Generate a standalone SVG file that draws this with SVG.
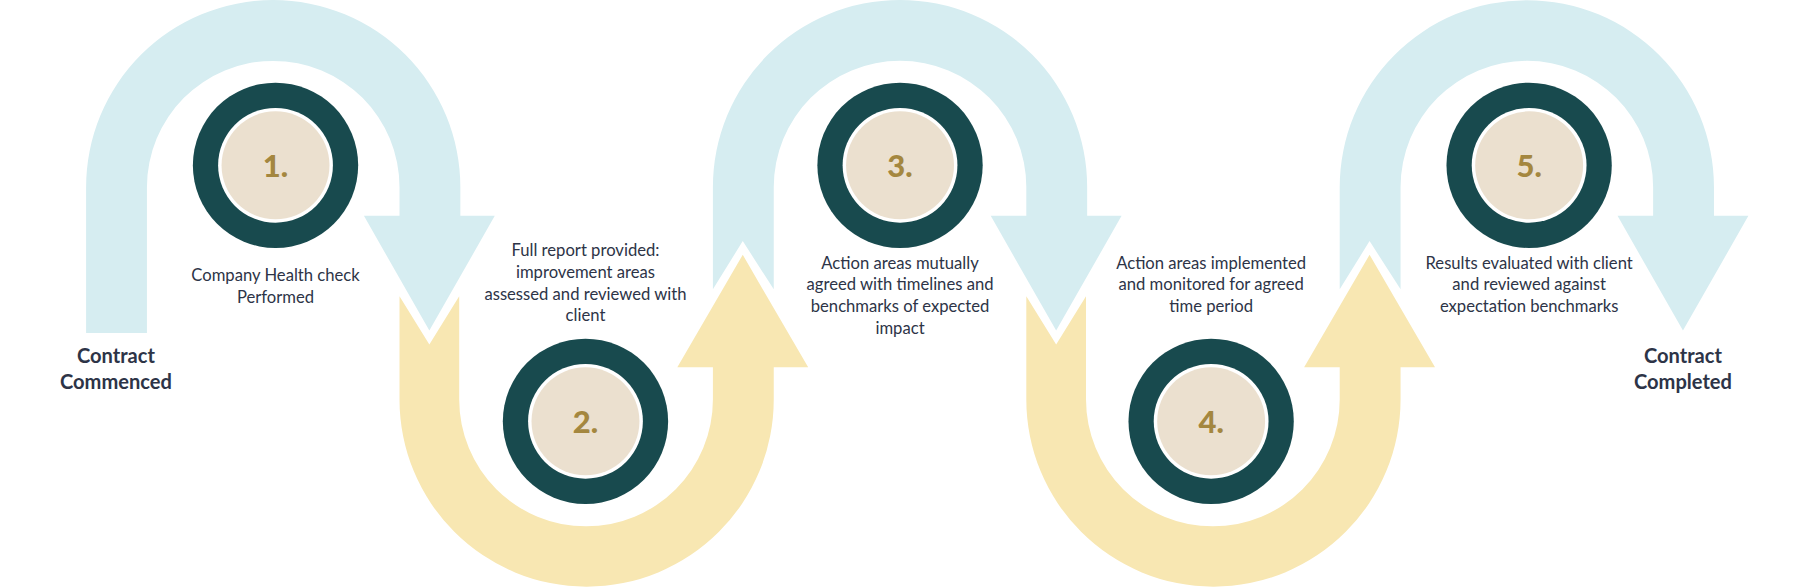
<svg xmlns="http://www.w3.org/2000/svg" width="1800" height="587" viewBox="0 0 1800 587">
<style>
.b{fill:#d6edf1}.y{fill:#f8e7b2}
.ro{fill:#184a4e}.rw{fill:#fff}.ri{fill:#ebe0cf}
.n{font-family:Lato,"Liberation Sans",sans-serif;font-weight:900;font-size:27px;fill:#a4873f;text-anchor:middle}
.t{font-family:Lato,"Liberation Sans",sans-serif;font-size:14.5px;fill:#2d3447;text-anchor:middle}
.h{font-family:Lato,"Liberation Sans",sans-serif;font-weight:700;font-size:17.5px;fill:#2d3447;text-anchor:middle}
</style>
<rect width="1800" height="587" fill="#fff"/>
<g transform="scale(1.148)">
<g id="connectors">
<path class="b" d="M75,290 V163 A163,163 0 0 1 401,163 V188 H431 L374,288 L317,188 H348 V163 A110,110 0 0 0 128,163 V290 Z"/>
<path class="y" d="M348,258 L374,300 L400,258 V348 A110.5,110.5 0 0 0 621,348 V320 H590 L647,222 L704,320 H674 V348 A163,163 0 0 1 348,348 Z"/>
<path class="b" d="M621,252 V163 A163,163 0 0 1 947,163 V188 H977 L920,288 L863,188 H894 V163 A110,110 0 0 0 674,163 V252 L647,210 Z"/>
<path class="y" d="M894,258 L920,300 L946,258 V348 A110.5,110.5 0 0 0 1167,348 V320 H1136 L1193,222 L1250,320 H1220 V348 A163,163 0 0 1 894,348 Z"/>
<path class="b" d="M1167,252 V163 A163,163 0 0 1 1493,163 V188 H1523 L1466,288 L1409,188 H1440 V163 A110,110 0 0 0 1220,163 V252 L1193,210 Z"/>
</g>
<g id="n1"><circle class="ro" cx="240" cy="144" r="72"/><circle class="rw" cx="240" cy="144" r="50"/><circle class="ri" cx="240" cy="144" r="47"/><text class="n" x="240" y="154">1.</text></g>
<g id="n2"><circle class="ro" cx="510" cy="367" r="72"/><circle class="rw" cx="510" cy="367" r="50"/><circle class="ri" cx="510" cy="367" r="47"/><text class="n" x="510" y="377">2.</text></g>
<g id="n3"><circle class="ro" cx="784" cy="144" r="72"/><circle class="rw" cx="784" cy="144" r="50"/><circle class="ri" cx="784" cy="144" r="47"/><text class="n" x="784" y="154">3.</text></g>
<g id="n4"><circle class="ro" cx="1055" cy="367" r="72"/><circle class="rw" cx="1055" cy="367" r="50"/><circle class="ri" cx="1055" cy="367" r="47"/><text class="n" x="1055" y="377">4.</text></g>
<g id="n5"><circle class="ro" cx="1332" cy="144" r="72"/><circle class="rw" cx="1332" cy="144" r="50"/><circle class="ri" cx="1332" cy="144" r="47"/><text class="n" x="1332" y="154">5.</text></g>
<g id="labels">
<text class="h" x="101" y="316">Contract</text><text class="h" x="101" y="339">Commenced</text>
<text class="h" x="1466" y="316">Contract</text><text class="h" x="1466" y="339">Completed</text>
<text class="t" x="240" y="245">Company Health check</text><text class="t" x="240" y="264">Performed</text>
<text class="t" x="510" y="223">Full report provided:</text><text class="t" x="510" y="242">improvement areas</text><text class="t" x="510" y="261">assessed and reviewed with</text><text class="t" x="510" y="280">client</text>
<text class="t" x="784" y="234">Action areas mutually</text><text class="t" x="784" y="253">agreed with timelines and</text><text class="t" x="784" y="272">benchmarks of expected</text><text class="t" x="784" y="291">impact</text>
<text class="t" x="1055" y="234">Action areas implemented</text><text class="t" x="1055" y="253">and monitored for agreed</text><text class="t" x="1055" y="272">time period</text>
<text class="t" x="1332" y="234">Results evaluated with client</text><text class="t" x="1332" y="253">and reviewed against</text><text class="t" x="1332" y="272">expectation benchmarks</text>
</g>
</g>
</svg>
